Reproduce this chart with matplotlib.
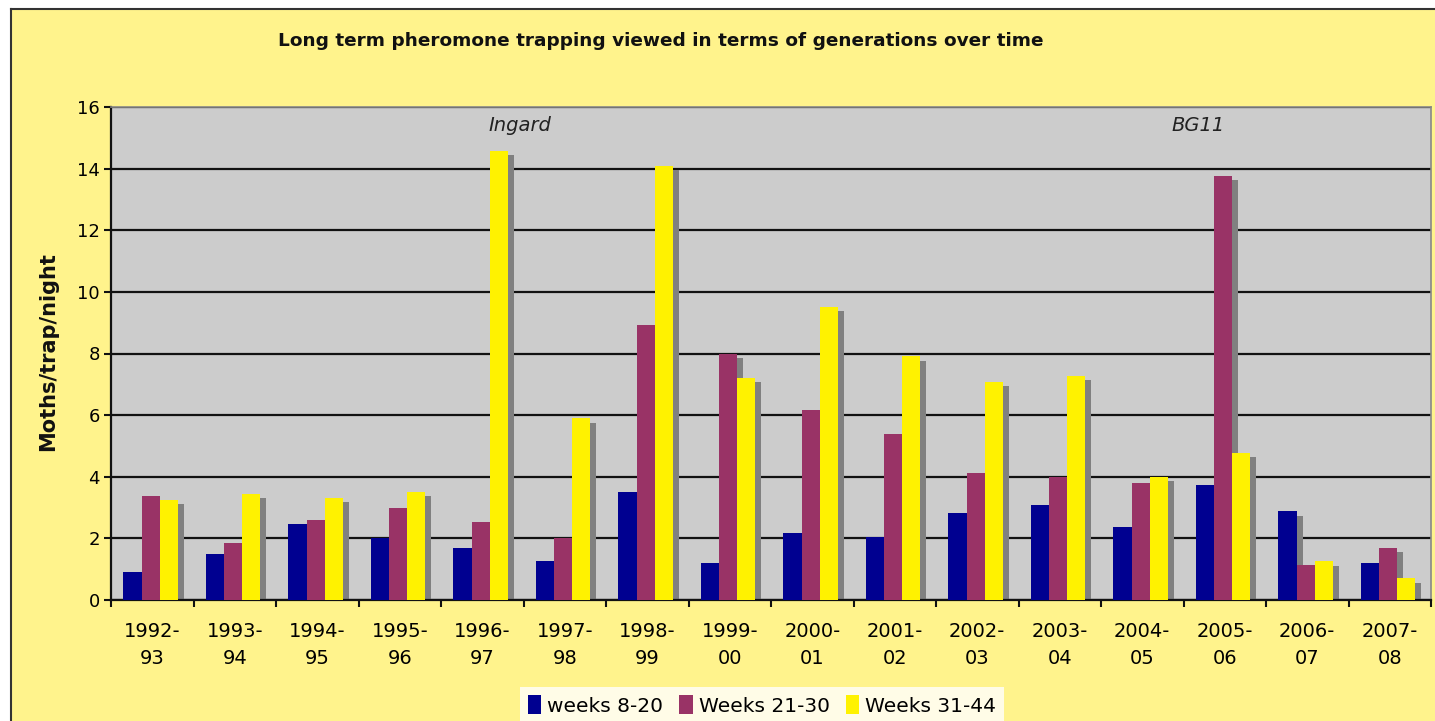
import matplotlib
matplotlib.use("Agg")
import matplotlib.pyplot as plt
import numpy as np
from matplotlib.patches import Rectangle, Patch
from matplotlib.lines import Line2D

seasons = ["1992-\n93", "1993-\n94", "1994-\n95", "1995-\n96", "1996-\n97", "1997-\n98",
           "1998-\n99", "1999-\n00", "2000-\n01", "2001-\n02", "2002-\n03", "2003-\n04",
           "2004-\n05", "2005-\n06", "2006-\n07", "2007-\n08"]
weeks_8_20 = [0.92, 1.50, 2.47, 2.02, 1.70, 1.28, 3.52, 1.19, 2.17, 2.03, 2.81, 3.08, 2.38, 3.72, 2.88, 1.19]
weeks_21_30 = [3.38, 1.84, 2.61, 2.97, 2.54, 2.00, 8.91, 8.00, 6.17, 5.40, 4.13, 3.99, 3.79, 13.77, 1.12, 1.70]
weeks_31_44 = [3.24, 3.45, 3.31, 3.52, 14.57, 5.90, 14.08, 7.21, 9.52, 7.91, 7.07, 7.27, 3.99, 4.77, 1.25, 0.70]
series_names = ["weeks 8-20", "Weeks 21-30", "Weeks 31-44"]
colors = ["#000090", "#993366", "#FFF200"]
title = "Long term pheromone trapping viewed in terms of generations over time"
ylabel = "Moths/trap/night"
annotations = [("Ingard", 4.46, 15.4), ("BG11", 12.68, 15.4)]

W, H = 1435, 721
fig = plt.figure(figsize=(W / 100, H / 100), dpi=100)
fig.patch.set_facecolor("white")
bgc = "#FFF38C"
fig.patches.append(Rectangle((11 / W, 0), 1 - 11 / W, 1 - 9 / H, transform=fig.transFigure,
                             facecolor=bgc, edgecolor="none", zorder=-10))
fig.lines.append(Line2D([11 / W, 1], [1 - 9 / H, 1 - 9 / H], transform=fig.transFigure, color="#333333", lw=1.5, zorder=-5))
fig.lines.append(Line2D([11 / W, 11 / W], [0, 1 - 9 / H], transform=fig.transFigure, color="#333333", lw=1.5, zorder=-5))

ax = fig.add_axes([111 / W, 121 / H, (1431 - 111) / W, (600 - 107) / H])
ax.set_zorder(1)
ax.set_facecolor("#CCCCCC")
n = len(seasons)
x = np.arange(n)
bw = 0.22
data = [weeks_8_20, weeks_21_30, weeks_31_44]
dx, dy = 0.073, 0.14
for i, (vals, c) in enumerate(zip(data, colors)):
    pos = x + (i - 1) * bw - 0.02
    v = np.array(vals)
    ax.bar(pos + dx, np.maximum(v - dy, 0), width=bw, color="#808080", zorder=2, linewidth=0)
for i, (vals, c) in enumerate(zip(data, colors)):
    pos = x + (i - 1) * bw - 0.02
    ax.bar(pos, vals, width=bw, color=c, zorder=3, linewidth=0, label=series_names[i])

ax.set_xlim(-0.5, n - 0.5)
ax.set_ylim(0, 16)
ax.set_yticks(np.arange(0, 17, 2))
ax.yaxis.grid(True, color="#111111", lw=1.6, zorder=1)
ax.set_axisbelow(True)
ax.set_xticks(np.arange(-0.5, n, 1.0))
ax.set_xticklabels([])
ax.set_xticks(x, minor=True)
ax.set_xticklabels(seasons, minor=True, fontsize=14, linespacing=1.5)
ax.tick_params(axis="x", which="minor", length=0, pad=16)
ax.tick_params(axis="x", which="major", length=5, width=1.5, color="#111111", direction="out")
ax.tick_params(axis="y", length=5, width=1.5, color="#111111", labelsize=13, pad=3)
for s in ["top", "right"]:
    ax.spines[s].set_color("#888888")
    ax.spines[s].set_linewidth(1.2)
for s in ["left", "bottom"]:
    ax.spines[s].set_color("#111111")
    ax.spines[s].set_linewidth(1.6)

for txt, xx, yy in annotations:
    ax.text(xx, yy, txt, style="italic", fontsize=14, ha="center", va="center", color="#222222")

fig.text(661 / W, 1 - 41 / H, title, ha="center", va="center", fontsize=13.3, fontweight="bold", color="#111111")
fig.text(48 / W, 1 - 352 / H, ylabel, ha="center", va="center", rotation=90, fontsize=15,
         fontweight="bold", color="#111111")

handles = [Patch(facecolor=c, edgecolor="none") for c in colors]
leg = fig.legend(handles, series_names, loc="upper center", bbox_to_anchor=(762 / W, 1 - 687 / H),
                 borderaxespad=0, ncol=3, frameon=True, fontsize=14.5, handlelength=0.65,
                 handleheight=1.1, handletextpad=0.3, columnspacing=0.8, borderpad=0.4, fancybox=False)
leg.get_frame().set_facecolor("white")
leg.get_frame().set_edgecolor("none")

fig.savefig("out.png", dpi=100, facecolor=fig.get_facecolor())
